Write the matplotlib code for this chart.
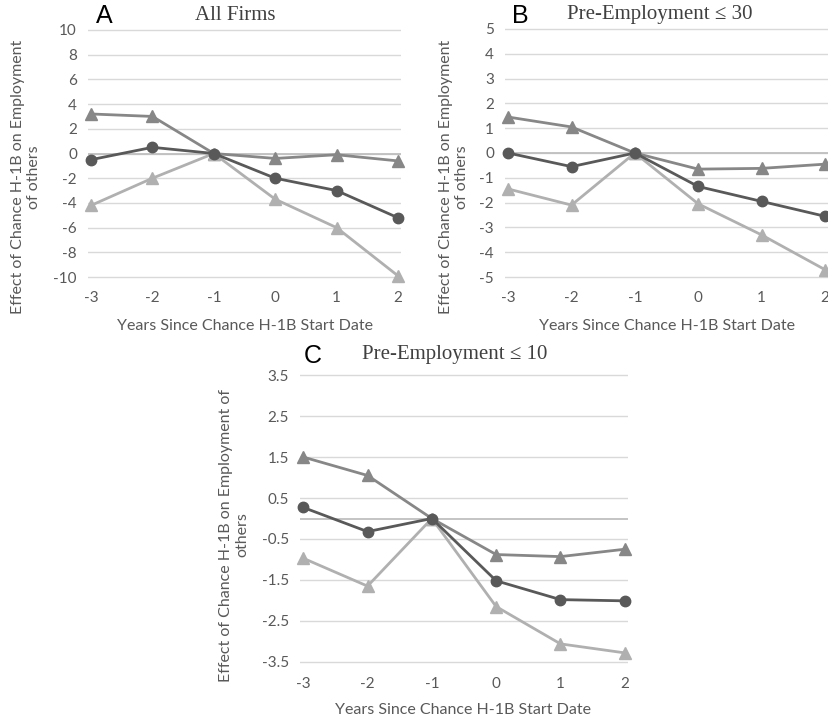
import matplotlib
matplotlib.use('Agg')
import matplotlib.pyplot as plt

years = [-3, -2, -1, 0, 1, 2]

# panel A: all firms
a_mid = [-0.5, 0.5, 0.0, -2.0, -3.0, -5.2]
a_upper = [3.2, 3.0, 0.0, -0.4, -0.1, -0.6]
a_lower = [-4.2, -2.0, 0.0, -3.7, -6.0, -9.9]

# panel B: pre-employment <= 30
b_mid = [0.0, -0.55, 0.0, -1.35, -1.95, -2.55]
b_upper = [1.45, 1.05, 0.0, -0.65, -0.62, -0.45]
b_lower = [-1.45, -2.1, 0.0, -2.05, -3.3, -4.7]

# panel C: pre-employment <= 10
c_mid = [0.27, -0.32, 0.0, -1.52, -1.98, -2.01]
c_upper = [1.5, 1.05, 0.0, -0.88, -0.93, -0.75]
c_lower = [-0.97, -1.65, 0.0, -2.15, -3.06, -3.28]

a_ticks = [10, 8, 6, 4, 2, 0, -2, -4, -6, -8, -10]
b_ticks = [5, 4, 3, 2, 1, 0, -1, -2, -3, -4, -5]
c_ticks = [3.5, 2.5, 1.5, 0.5, -0.5, -1.5, -2.5, -3.5]

DARK = '#595959'
MID = '#878787'
LIGHT = '#b0b0b0'
TXT = '#595959'
SANS = ['Lato', 'DejaVu Sans']

W, H = 829, 721


def px_axes(fig, left, top, right, bottom):
    return fig.add_axes([left / W, 1 - bottom / H, (right - left) / W, (bottom - top) / H])


def draw_panel(ax, mid, upper, lower, ticks, ylim):
    for y in ticks:
        ax.axhline(y, color='#d9d9d9', lw=1, zorder=0)
    ax.axhline(0, color='#bfbfbf', lw=1.3, zorder=0)
    ax.plot(years, upper, color=MID, lw=2, marker='^', ms=8, clip_on=False, zorder=3)
    ax.plot(years, lower, color=LIGHT, lw=2, marker='^', ms=8, clip_on=False, zorder=3)
    ax.plot(years, mid, color=DARK, lw=2, marker='o', ms=7.5, clip_on=False, zorder=4)
    ax.set_xlim(-3.05, 2.05)
    ax.set_ylim(*ylim)
    ax.set_yticks(ticks)
    ax.set_yticklabels([f'{t:g}' for t in ticks])
    ax.set_xticks(years)
    ax.set_xticklabels([str(y) for y in years])
    for s in ax.spines.values():
        s.set_visible(False)
    ax.tick_params(length=0, labelsize=11, labelcolor=TXT, pad=8)
    for lab in ax.get_xticklabels() + ax.get_yticklabels():
        lab.set_family(SANS)


fig = plt.figure(figsize=(W / 100, H / 100), dpi=100)

axA = px_axes(fig, 88, 27.5, 401, 279.5)
draw_panel(axA, a_mid, a_upper, a_lower, a_ticks, (-10.2, 10.2))
axB = px_axes(fig, 505, 26.5, 828, 279.5)
draw_panel(axB, b_mid, b_upper, b_lower, b_ticks, (-5.1, 5.1))
axC = px_axes(fig, 300, 371, 628, 666)
draw_panel(axC, c_mid, c_upper, c_lower, c_ticks, (-3.6, 3.6))


def ftext(x, y, s, **kw):
    fig.text(x / W, 1 - y / H, s, **kw)


ylab_kw = dict(rotation=90, ha='center', va='center', multialignment='center',
               fontsize=11.5, color=TXT, family=SANS, linespacing=1.2)
ftext(26, 177, 'Effect of Chance H-1B on Employment\nof others', **ylab_kw)
ftext(454, 177, 'Effect of Chance H-1B on Employment\nof others', **ylab_kw)
ftext(234, 535, 'Effect of Chance H-1B on Employment of\nothers', **ylab_kw)

xlab_kw = dict(ha='center', va='center', fontsize=11.5, color=TXT, family=SANS)
ftext(245, 326, 'Years Since Chance H-1B Start Date', **xlab_kw)
ftext(667, 326, 'Years Since Chance H-1B Start Date', **xlab_kw)
ftext(463, 710, 'Years Since Chance H-1B Start Date', **xlab_kw)

title_kw = dict(ha='center', va='center', fontsize=15, color='#404040', family='Liberation Serif')
ftext(235, 15, 'All Firms', **title_kw)
ftext(660, 15, 'Pre-Employment \u2264 30', **title_kw)
ftext(455, 355, 'Pre-Employment \u2264 10', **title_kw)

letter_kw = dict(ha='center', va='center', fontsize=18, color='black', family=['Liberation Sans', 'DejaVu Sans'])
ftext(104, 16, 'A', **letter_kw)
ftext(520, 16, 'B', **letter_kw)
ftext(313, 356, 'C', **letter_kw)

fig.savefig('out.png', dpi=100)
